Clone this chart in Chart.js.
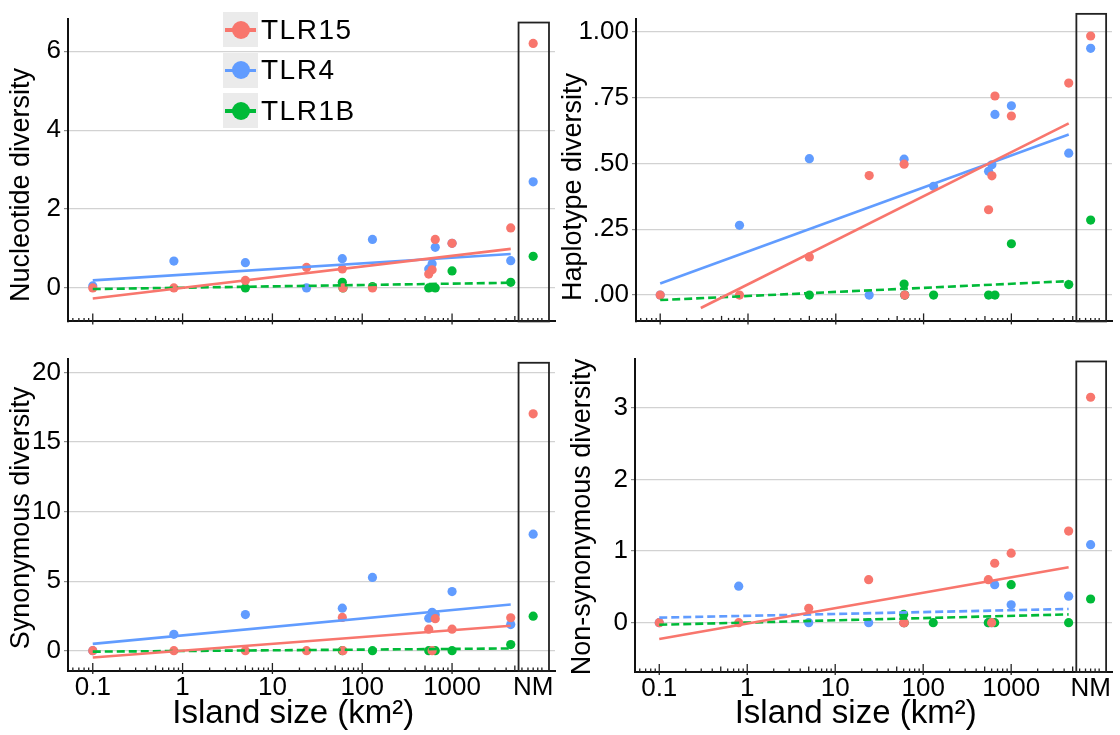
<!DOCTYPE html>
<html>
<head>
<meta charset="utf-8">
<script src="https://cdn.jsdelivr.net/npm/chart.js@4"></script>
<style>
  body { margin: 0; background: #fff; width: 1120px; height: 735px; position: relative; overflow: hidden;
         font-family: "Liberation Sans", Arial, sans-serif; }
  canvas.panel { position: absolute; }
  #legend { position: absolute; left: 223px; top: 12px; }
  .item { display: flex; align-items: center; height: 35px; margin-bottom: 5.5px; }
  .key { position: relative; width: 35px; height: 35px; background: #ebebeb; }
  .key .ln { position: absolute; left: 2px; right: 2px; top: 16px; height: 3.5px; }
  .key .dot { position: absolute; left: 8.5px; top: 8.5px; width: 18px; height: 18px; border-radius: 50%; }
  .lbl { font-size: 28px; margin-left: 3px; letter-spacing: 1.5px; color: #000; }
</style>
</head>
<body>
<canvas id="nuc" class="panel" style="left:0;top:0" width="560" height="340"></canvas>
<canvas id="hap" class="panel" style="left:560px;top:0" width="560" height="340"></canvas>
<canvas id="syn" class="panel" style="left:0;top:340px" width="560" height="395"></canvas>
<canvas id="nonsyn" class="panel" style="left:560px;top:340px" width="560" height="395"></canvas>
<div id="legend"></div>
<script>
// island areas in km2, shared by every panel
const islandSize = [0.1, 0.8, 5, 24, 60, 61, 130, 550, 600, 650, 1000, 4500];
// mainland (NM) column sits at the far right of the log axis
const NM_X = 8000;
const NM_LO = 5500;
const NM_HI = 12000;
const X_MIN = 0.053;
const X_MAX = 14000;
const xTickValues = [0.1, 1, 10, 100, 1000, NM_X];
const xTickLabels = ['0.1', '1', '10', '100', '1000', 'NM'];

const genes = ['TLR15', 'TLR4', 'TLR1B'];
const geneColors = ['#F8766D', '#619CFF', '#00BA38'];

// nucleotide diversity
const nucTLR15 = [0, 0, 0.19, 0.52, 0.48, 0, 0, 0.35, 0.46, 1.23, 1.13, 1.52];
const nucTLR4 = [0.05, 0.68, 0.64, 0, 0.74, null, 1.23, 0.48, 0.61, 1.03, 1.13, 0.69];
const nucTLR1B = [null, null, 0, null, 0.14, 0, 0.03, 0, null, 0, 0.43, 0.14];
const nucNM = [6.2, 2.69, 0.8];
const nucFit = [[[0.1, -0.27], [4500, 0.99]], [[0.1, 0.19], [4500, 0.86]], [[0.1, -0.03], [4500, 0.13]]];
const nucTicks = [0, 2, 4, 6];
const nucTickLabels = ['0', '2', '4', '6'];

// haplotype diversity
const hapTLR15 = [0, 0, 0.145, 0.454, 0.497, 0, null, 0.324, 0.453, 0.756, 0.68, 0.805];
const hapTLR4 = [0, 0.265, 0.518, 0, 0.516, 0, 0.413, 0.47, 0.495, 0.686, 0.719, 0.539];
const hapTLR1B = [null, null, 0, null, 0.042, 0, 0, 0, null, 0, 0.195, 0.04];
const hapNM = [0.984, 0.937, 0.285];
const hapFit = [[[0.29, -0.049], [4500, 0.652]], [[0.1, 0.044], [4500, 0.61]], [[0.1, -0.019], [4500, 0.053]]];
const hapTicks = [0, 0.25, 0.5, 0.75, 1];
const hapTickLabels = ['.00', '.25', '.50', '.75', '1.00'];

// synonymous diversity
const synTLR15 = [0, 0, 0, 0, 2.39, 0, null, 1.55, 0, 2.3, 1.55, 2.37];
const synTLR4 = [0, 1.18, 2.6, null, 3.06, null, 5.27, 2.34, 2.76, 2.58, 4.25, 1.88];
const synTLR1B = [null, null, null, null, 0, null, 0, 0, null, 0, 0, 0.44];
const synNM = [17.03, 8.38, 2.48];
const synFit = [[[0.1, -0.49], [4500, 1.79]], [[0.1, 0.49], [4500, 3.32]], [[0.1, -0.07], [4500, 0.16]]];
const synTicks = [0, 5, 10, 15, 20];
const synTickLabels = ['0', '5', '10', '15', '20'];

// non-synonymous diversity
const nonTLR15 = [0, 0, 0.2, 0.6, 0, 0, null, 0.6, 0, 0.83, 0.97, 1.28];
const nonTLR4 = [0, 0.51, 0, 0, 0, null, null, 0, 0, 0.53, 0.25, 0.37];
const nonTLR1B = [null, null, null, null, 0.115, 0, 0, 0, null, 0, 0.53, 0];
const nonNM = [3.15, 1.09, 0.33];
const nonFit = [[[0.1, -0.23], [4500, 0.775]], [[0.1, 0.07], [4500, 0.19]], [[0.1, -0.03], [4500, 0.115]]];
const nonTicks = [0, 1, 2, 3];
const nonTickLabels = ['0', '1', '2', '3'];

const FONT = '"Liberation Sans", Arial, sans-serif';
Chart.defaults.font.family = FONT;

// frame around the NM column, log ticks on the x axis, axis titles
const panelDecor = {
  id: 'panelDecor',
  afterDraw(chart, args, opts) {
    const { ctx, chartArea: a, scales: { x, y } } = chart;
    ctx.save();
    const x0 = x.getPixelForValue(NM_LO);
    const x1 = x.getPixelForValue(NM_HI);
    const yt = y.getPixelForValue(opts.boxTop);
    ctx.strokeStyle = '#222';
    ctx.lineWidth = 1.8;
    ctx.strokeRect(x0, yt, x1 - x0, a.bottom - yt);

    ctx.lineWidth = 1.3;
    for (let k = -2; k <= 4; k++) {
      for (let d = 1; d <= 9; d++) {
        const v = d * Math.pow(10, k);
        if (v < x.min || v > x.max) continue;
        const px = x.getPixelForValue(v);
        let up = 3.5, down = 0;
        if (d === 1 && v < NM_LO) { up = 8; down = 3; }
        else if (d === 5) up = 5.5;
        ctx.beginPath();
        ctx.moveTo(px, a.bottom - up);
        ctx.lineTo(px, a.bottom + down);
        ctx.stroke();
      }
    }

    ctx.fillStyle = '#000';
    ctx.textAlign = 'center';
    ctx.textBaseline = 'middle';
    if (opts.xTitle) {
      // centred under the island-size part of the axis
      ctx.font = '33px ' + FONT;
      ctx.fillText(opts.xTitle, (a.left + x0) / 2, chart.height - 21);
    }
    ctx.font = '27px ' + FONT;
    ctx.translate(opts.yTitleX, opts.yTitleY);
    ctx.rotate(-Math.PI / 2);
    ctx.fillText(opts.yTitle, 0, 0);
    ctx.restore();
  }
};

function panelChart(id, cfg) {
  const datasets = [];
  // fitted lines go on top of the points
  genes.forEach((g, i) => {
    datasets.push({
      label: g + ' fit',
      data: cfg.fits[i].map(([x, y]) => ({ x, y })),
      showLine: true,
      borderColor: geneColors[i],
      borderWidth: 2.6,
      borderDash: cfg.dashed[i] ? [8, 4] : [],
      pointRadius: 0,
      order: 0
    });
  });
  const stack = [0, 2, 1]; // TLR15 over TLR1B over TLR4
  genes.forEach((g, i) => {
    const pts = islandSize.map((x, k) => ({ x, y: cfg.values[i][k] })).filter(p => p.y !== null);
    pts.push({ x: NM_X, y: cfg.nm[i] });
    datasets.push({
      label: g,
      data: pts,
      backgroundColor: geneColors[i],
      borderWidth: 0,
      pointRadius: 4.6,
      order: 1 + stack.indexOf(i)
    });
  });

  return new Chart(document.getElementById(id), {
    type: 'scatter',
    data: { datasets },
    plugins: [panelDecor],
    options: {
      responsive: false,
      animation: false,
      layout: { padding: { left: 0, top: cfg.padTop, right: cfg.padRight, bottom: 0 } },
      plugins: {
        legend: { display: false },
        tooltip: { enabled: false },
        panelDecor: {
          boxTop: cfg.boxTop,
          xTitle: cfg.showX ? 'Island size (km\u00B2)' : '',
          yTitle: cfg.yTitle, yTitleX: cfg.yTitleX, yTitleY: cfg.yTitleY
        }
      },
      scales: {
        x: {
          type: 'logarithmic',
          min: X_MIN,
          max: X_MAX,
          afterBuildTicks: s => { s.ticks = xTickValues.map(v => ({ value: v })); },
          afterFit: s => { s.height = cfg.xHeight; },
          grid: { display: false, drawTicks: false },
          border: { color: '#111', width: 2 },
          ticks: {
            display: cfg.showX, padding: 1, color: '#000', font: { size: 26 },
            maxRotation: 0, autoSkip: false,
            callback: (v, i) => xTickLabels[i]
          }
        },
        y: {
          min: cfg.yMin,
          max: cfg.yMax,
          afterBuildTicks: s => { s.ticks = cfg.yTicks.map(v => ({ value: v })); },
          afterFit: s => { s.width = cfg.yWidth; },
          grid: { color: '#d2d2d2', lineWidth: 1.2, drawTicks: true, tickLength: 4, tickColor: '#8c8c8c' },
          border: { color: '#111', width: 2 },
          ticks: { padding: 3, color: '#000', font: { size: 26 }, callback: (v, i) => cfg.yLabels[i] }
        }
      }
    }
  });
}

const nucChart = panelChart('nuc', {
  values: [nucTLR15, nucTLR4, nucTLR1B], nm: nucNM, fits: nucFit, dashed: [false, false, true],
  yMin: -0.85, yMax: 6.83, yTicks: nucTicks, yLabels: nucTickLabels, boxTop: 6.73,
  yTitle: 'Nucleotide diversity', yTitleX: 21.5, yTitleY: 185,
  padTop: 13, padRight: 5, yWidth: 68, xHeight: 2, showX: false
});
panelChart('hap', {
  values: [hapTLR15, hapTLR4, hapTLR1B], nm: hapNM, fits: hapFit, dashed: [false, false, true],
  yMin: -0.1, yMax: 1.05, yTicks: hapTicks, yLabels: hapTickLabels, boxTop: 1.068,
  yTitle: 'Haplotype diversity', yTitleX: 14, yTitleY: 187,
  padTop: 15, padRight: 8, yWidth: 76, xHeight: 4, showX: false
});
panelChart('syn', {
  values: [synTLR15, synTLR4, synTLR1B], nm: synNM, fits: synFit, dashed: [false, false, true],
  yMin: -1.46, yMax: 21.0, yTicks: synTicks, yLabels: synTickLabels, boxTop: 20.7,
  yTitle: 'Synonymous diversity', yTitleX: 21.5, yTitleY: 178,
  padTop: 7, padRight: 5, yWidth: 68, xHeight: 64, showX: true
});
panelChart('nonsyn', {
  values: [nonTLR15, nonTLR4, nonTLR1B], nm: nonNM, fits: nonFit, dashed: [false, true, true],
  yMin: -0.69, yMax: 3.69, yTicks: nonTicks, yLabels: nonTickLabels, boxTop: 3.65,
  yTitle: 'Non-synonymous diversity', yTitleX: 22.5, yTitleY: 177,
  padTop: 15, padRight: 8, yWidth: 75, xHeight: 63, showX: true
});

// legend built from the point datasets of the first panel
const legend = document.getElementById('legend');
nucChart.data.datasets.filter(ds => !ds.showLine).forEach(ds => {
  const item = document.createElement('div');
  item.className = 'item';
  item.innerHTML = '<div class="key"><div class="ln"></div><div class="dot"></div></div><span class="lbl"></span>';
  item.querySelector('.ln').style.background = ds.backgroundColor;
  item.querySelector('.dot').style.background = ds.backgroundColor;
  item.querySelector('.lbl').textContent = ds.label;
  legend.appendChild(item);
});
</script>
</body>
</html>
